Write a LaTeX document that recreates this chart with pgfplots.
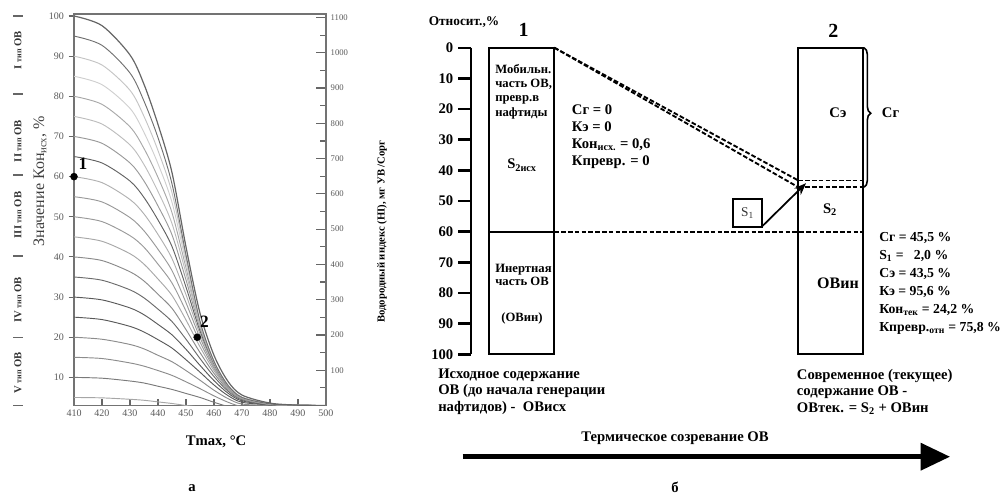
\documentclass[border=0pt]{standalone}
\usepackage{fontspec}
\setmainfont{Liberation Serif}
\usepackage{pgfplots}
\pgfplotsset{compat=1.18}
\usepackage{pgfplotstable}
\usetikzlibrary{arrows.meta,decorations.pathreplacing}

\pgfplotstableread{
T c100 c95 c90 c85 c80 c75 c70 c65 c60 c55 c50 c45 c40 c35 c30 c25 c20 c15 c10 c5
410 100 95 90 85 80 75 70 65 60 55 50 45 40 35 30 25 20 15 10 5
420 97.6 92.7 87.8 82.9 78.0 73.1 68.3 63.4 58.5 53.7 48.8 43.9 39.1 34.2 29.3 24.4 19.5 14.7 9.8 4.9
430 90.3 85.8 81.5 77.0 72.4 67.9 63.4 58.9 54.3 49.8 45.3 40.8 36.3 31.8 27.3 22.7 18.2 13.6 9.1 4.55
435 83.0 78.8 75.0 71.0 67.0 63.0 58.9 54.8 50.7 46.5 42.4 38.2 34.0 29.8 25.6 21.3 17.1 12.8 8.6 4.3
440 73.0 69.7 66.5 63.2 59.8 56.3 52.7 49.2 45.6 41.9 38.2 34.5 30.7 27.0 23.2 19.4 15.5 11.7 7.8 3.9
445 61.0 58.2 56.0 53.6 51.0 48.3 45.5 42.6 39.6 36.6 33.5 30.4 27.2 23.9 20.6 17.3 13.9 10.5 7.0 3.5
450 42.5 40.5 39.7 38.6 37.3 35.9 34.3 32.5 30.6 28.6 26.5 24.3 21.9 19.5 17.0 14.4 11.7 8.9 6.0 3.0
455 26.0 24.0 23.8 23.6 23.3 22.9 22.3 21.6 20.8 19.9 18.8 17.6 16.2 14.7 13.0 11.3 9.3 7.2 5.0 2.6
460 15.5 14.0 14.0 13.95 13.9 13.8 13.6 13.4 13.1 12.7 12.25 11.7 11.0 10.2 9.2 8.1 6.8 5.4 3.8 2.0
465 9.0 8.0 8.0 8.0 7.99 7.97 7.94 7.88 7.8 7.67 7.5 7.27 6.96 6.57 6.08 5.47 4.72 3.82 2.75 1.48
470 5.6 5.0 5.0 5.0 5.0 5.0 5.0 4.99 4.95 4.91 4.84 4.75 4.61 4.42 4.16 3.81 3.36 2.78 2.05 1.13
480 3.6 3.4 3.4 3.4 3.4 3.4 3.4 3.4 3.4 3.3 3.3 3.3 3.3 3.15 3.15 3.15 3.0 2.6 2.0 1.0
490 3.1 3.05 3.05 3.05 3.05 3.05 3.05 3.05 3.05 3.05 3.05 3.05 3.05 3.0 3.0 3.0 2.8 2.3 1.5 0.5
500 3.0 3.0 3.0 3.0 3.0 3.0 3.0 3.0 3.0 3.0 3.0 3.0 3.0 2.9 2.9 2.9 2.7 2.2 1.3 0.4
}\curves

\tikzset{
  dsh/.style={black, line width=1.4pt, dash pattern=on 3.5pt off 1.6pt},
  solidb/.style={black, line width=1.5pt},
  crv/.style={smooth, line width=0.7pt},
}
\newcommand{\bfs}[1]{\bfseries\fontsize{#1}{#1}\selectfont}

\begin{document}
\begin{tikzpicture}
% ---------------- panel a: left axis ----------------
\begin{axis}[
  at={(55.5pt,-304.125pt)}, anchor=south west,
  scale only axis, width=189pt, height=293.625pt,
  xmin=410, xmax=500, ymin=3, ymax=100.5,
  xtick={410,420,...,500}, ytick={10,20,...,100},
  xtick pos=bottom, ytick pos=left,
  tick align=inside, major tick length=5pt,
  ytick style={xshift=-4pt},
  yticklabel style={xshift=-4pt},
  axis line style={black!55, line width=0.9pt},
  tick style={black!60, line width=0.8pt},
  ticklabel style={font=\fontsize{7.5}{9}\selectfont, text=black!65},
  /pgf/number format/assume math mode=true,
  /pgf/number format/1000 sep={},
  clip mode=individual,
]
\addplot[crv, black!35] table[x=T,y=c5]{\curves};
\addplot[crv, black!52] table[x=T,y=c10]{\curves};
\addplot[crv, black!45] table[x=T,y=c15]{\curves};
\addplot[crv, black!45] table[x=T,y=c20]{\curves};
\addplot[crv, black!65] table[x=T,y=c25]{\curves};
\addplot[crv, black!65] table[x=T,y=c30]{\curves};
\addplot[crv, black!58] table[x=T,y=c35]{\curves};
\addplot[crv, black!46] table[x=T,y=c40]{\curves};
\addplot[crv, black!34] table[x=T,y=c45]{\curves};
\addplot[crv, black!40] table[x=T,y=c50]{\curves};
\addplot[crv, black!40] table[x=T,y=c55]{\curves};
\addplot[crv, black!31] table[x=T,y=c60]{\curves};
\addplot[crv, black!62] table[x=T,y=c65]{\curves};
\addplot[crv, black!40] table[x=T,y=c70]{\curves};
\addplot[crv, black!26] table[x=T,y=c75]{\curves};
\addplot[crv, black!34] table[x=T,y=c80]{\curves};
\addplot[crv, black!19] table[x=T,y=c85]{\curves};
\addplot[crv, black!23] table[x=T,y=c90]{\curves};
\addplot[crv, black!56] table[x=T,y=c95]{\curves};
\addplot[crv, black!60, line width=0.9pt] table[x=T,y=c100]{\curves};
\addplot[only marks, mark=*, mark size=2.6pt, black] coordinates {(410,60) (454,20)};
\node[font=\bfs{13}] at (axis cs:413.2,63.2) {1};
\node[font=\bfs{13}] at (axis cs:456.6,23.8) {2};
\end{axis}
% ---------------- panel a: right axis ----------------
\begin{axis}[
  at={(55.5pt,-304.125pt)}, anchor=south west,
  scale only axis, width=189pt, height=293.625pt,
  xmin=410, xmax=500, ymin=0, ymax=1110,
  hide x axis, axis y line*=right,
  ytick={100,200,...,1100}, minor ytick={50,150,...,1050},
  tick align=inside, major tick length=7.5pt, minor tick length=4.5pt,
  axis line style={black!55, line width=1pt},
  tick style={black!60, line width=0.9pt},
  yticklabel style={font=\fontsize{6.5}{8}\selectfont, text=black!65},
  /pgf/number format/assume math mode=true,
  /pgf/number format/1000 sep={},
]
\addplot[draw=none] coordinates {(410,0) (500,1100)};
\end{axis}
% labels of panel a
\node[font=\bfs{11}] at (162pt,-331.3pt) {Tmax,~°C};
\node[font=\bfs{11}] at (144pt,-366pt) {а};
\node[rotate=90, font=\bfs{8}] at (286.5pt,-173.6pt) {Водородный индекс (HI), мг УВ /Сорг};
\node[rotate=90, font=\fontsize{12}{14}\selectfont, text=black!75] at (30pt,-135.75pt) {Значение Кон\textsubscript{исх}, \%};
\node[rotate=90, font=\bfs{8}, text=black!80] at (13.5pt,-37.5pt) {I {\fontsize{6}{6}\selectfont тип} ОВ};
\node[rotate=90, font=\bfs{8}, text=black!80] at (13.5pt,-105.75pt) {II {\fontsize{6}{6}\selectfont тип} ОВ};
\node[rotate=90, font=\bfs{8}, text=black!80] at (13.5pt,-161.25pt) {III {\fontsize{6}{6}\selectfont тип} ОВ};
\node[rotate=90, font=\bfs{8}, text=black!80] at (13.5pt,-225pt) {IV {\fontsize{6}{6}\selectfont тип} ОВ};
\node[rotate=90, font=\bfs{8}, text=black!80] at (13.5pt,-279.75pt) {V {\fontsize{6}{6}\selectfont тип} ОВ};
\foreach \yy in {16,94,175,256,337.7,405.7}
  \draw[black!60, line width=0.8pt] (10pt,-\yy*0.75pt) -- (17pt,-\yy*0.75pt);

% ---------------- panel b ----------------
\begin{axis}[
  at={(353.25pt,-265.725pt)}, anchor=south west,
  scale only axis, width=396.75pt, height=229.95pt,
  xmin=471, xmax=1000, ymin=0, ymax=100, y dir=reverse,
  hide x axis, axis y line*=left,
  ytick={0,10,...,100}, tick align=outside, major tick length=9.75pt,
  axis line style={black, line width=2.2pt},
  tick style={black, line width=1.8pt},
  yticklabel style={font=\bfs{11}},
  /pgf/number format/assume math mode=true,
  clip=false,
]
% boxes
\addplot[solidb] coordinates {(489,50) (489,0) (554.3,0) (554.3,100) (489,100) (489,50)};
\addplot[solidb] coordinates {(489,60) (554.3,60)};
\addplot[solidb] coordinates {(798.3,50) (798.3,0) (862.7,0) (862.7,100) (798.3,100) (798.3,50)};
% dashed lines
\addplot[dsh] coordinates {(554.3,60) (862.7,60)};
\addplot[dsh] coordinates {(554.3,0) (798.3,43.3)};
\addplot[dsh] coordinates {(554.3,0) (798.3,45.5)};
\addplot[dsh] coordinates {(798.3,43.3) (862.7,43.3)};
\addplot[dsh] coordinates {(798.3,45.5) (862.7,45.5)};
% S1 box and arrow
\addplot[black, line width=1.3pt] coordinates {(733.3,53) (733.3,49.3) (761.7,49.3) (761.7,58.4) (733.3,58.4) (733.3,53)};
\addplot[black, line width=1.3pt, -{Stealth[length=9pt,width=7pt]}] coordinates {(761.7,58.4) (806,44.2)};
% big arrow
\addplot[black, line width=3.4pt, -{Triangle[length=22pt,width=20pt]}] coordinates {(462.7,133.4) (950,133.4)};
% brace
\draw[decorate, decoration={brace, amplitude=5pt, aspect=0.47}, line width=1.2pt] (axis cs:864,0) -- (axis cs:864,45.5);
% texts
\node[font=\bfs{10}] at (axis cs:464,-8.4) {Относит.,\%};
\node[font=\bfs{15}] at (axis cs:523.5,-5.8) {1};
\node[font=\bfs{15}] at (axis cs:833.3,-5.6) {2};
\node[anchor=west, align=left, inner sep=0, font=\bfseries\fontsize{9.5}{10.7}\selectfont] at (axis cs:495,14.3) {Мобильн.\\часть ОВ,\\превр.в\\нафтиды};
\node[font=\bfs{11}] at (axis cs:522,38.3) {S\textsubscript{2исх}};
\node[anchor=west, align=left, inner sep=0, font=\bfseries\fontsize{11}{12.75}\selectfont] at (axis cs:571.7,29.0) {Сг = 0\\Кэ = 0\\Кон\textsubscript{исх.} = 0,6\\Кпревр. = 0};
\node[anchor=west, align=left, inner sep=0, font=\bfseries\fontsize{9.5}{10}\selectfont] at (axis cs:495,74.1) {Инертная\\часть ОВ};
\node[font=\bfs{9.5}] at (axis cs:522,88.3) {(ОВин)};
\node[font=\bfs{11}] at (axis cs:838,21.3) {Сэ};
\node[font=\bfs{11}] at (axis cs:830,52.9) {S\textsubscript{2}};
\node[font=\bfs{12}] at (axis cs:838,76.7) {ОВин};
\node[font=\fontsize{10}{10}\selectfont, text=black!80] at (axis cs:747.5,53.9) {S\textsubscript{1}};
\node[anchor=west, inner sep=0, font=\bfs{11}] at (axis cs:881.7,21.3) {Сг};
\node[anchor=west, align=left, inner sep=0, font=\bfseries\fontsize{10.3}{13.5}\selectfont] at (axis cs:879,76.8)
  {Сг = 45,5 \%\\S\textsubscript{1} =\ \ \ 2,0 \%\\Сэ = 43,5 \%\\Кэ = 95,6 \%\\Кон\textsubscript{тек} = 24,2 \%\\Кпревр.\textsubscript{отн} = 75,8 \%};
\node[anchor=west, align=left, inner sep=0, font=\bfseries\fontsize{11}{12.5}\selectfont] at (axis cs:438,112.2)
  {Исходное содержание\\ОВ (до начала генерации\\нафтидов) -~ ОВисх};
\node[anchor=west, align=left, inner sep=0, font=\bfseries\fontsize{11}{12.5}\selectfont] at (axis cs:796.7,112.2)
  {Современное (текущее)\\содержание ОВ -\\ОВтек. = S\textsubscript{2} + ОВин};
\node[font=\bfs{11}] at (axis cs:675,127.4) {Термическое созревание ОВ};
\node[font=\bfs{11}] at (axis cs:675,143.3) {б};
\end{axis}
\pgfresetboundingbox
\path[use as bounding box] (0,0) rectangle (754.5pt,-371.25pt);
\end{tikzpicture}
\end{document}
